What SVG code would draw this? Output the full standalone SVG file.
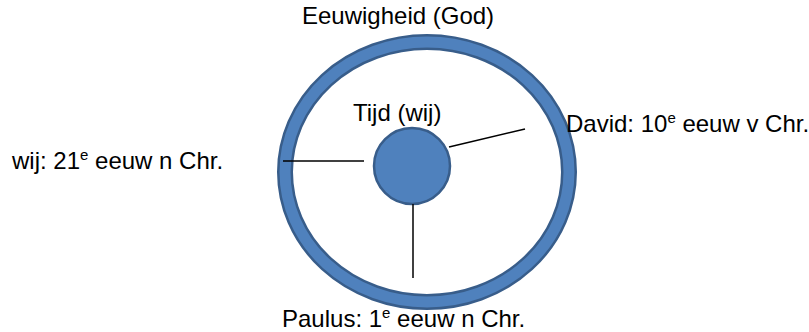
<svg xmlns="http://www.w3.org/2000/svg" width="809" height="332" viewBox="0 0 809 332">
<style>
text{font-family:"Liberation Sans",Arial,sans-serif;font-size:24px;fill:#000}
.sup{font-size:15px}
.conn{stroke:#000;stroke-width:1.5;fill:none}
</style>
<rect width="809" height="332" fill="#fff"/>
<g id="eeuwigheid">
<ellipse cx="427" cy="172" rx="142" ry="130" fill="none" stroke="#385D8A" stroke-width="16"/>
<ellipse cx="427" cy="172" rx="142" ry="130" fill="none" stroke="#4F81BD" stroke-width="11"/>
<text x="302" y="24">Eeuwigheid (God)</text>
</g>
<g id="tijd">
<circle cx="412" cy="166" r="38" fill="#4F81BD" stroke="#385D8A" stroke-width="2.5"/>
<text x="353" y="121">Tijd (wij)</text>
</g>
<g id="connectors">
<line class="conn" x1="283" y1="161" x2="364" y2="161"/>
<line class="conn" x1="449" y1="147" x2="525" y2="129"/>
<line class="conn" x1="413" y1="204" x2="413" y2="278"/>
</g>
<g id="wij">
<text x="12" y="169">wij: 21<tspan class="sup" dy="-9">e</tspan><tspan dy="9"> eeuw n Chr.</tspan></text>
</g>
<g id="david">
<text x="566" y="132">David: 10<tspan class="sup" dy="-9">e</tspan><tspan dy="9"> eeuw v Chr.</tspan></text>
</g>
<g id="paulus">
<text x="282" y="327">Paulus: 1<tspan class="sup" dy="-9">e</tspan><tspan dy="9"> eeuw n Chr.</tspan></text>
</g>
</svg>
